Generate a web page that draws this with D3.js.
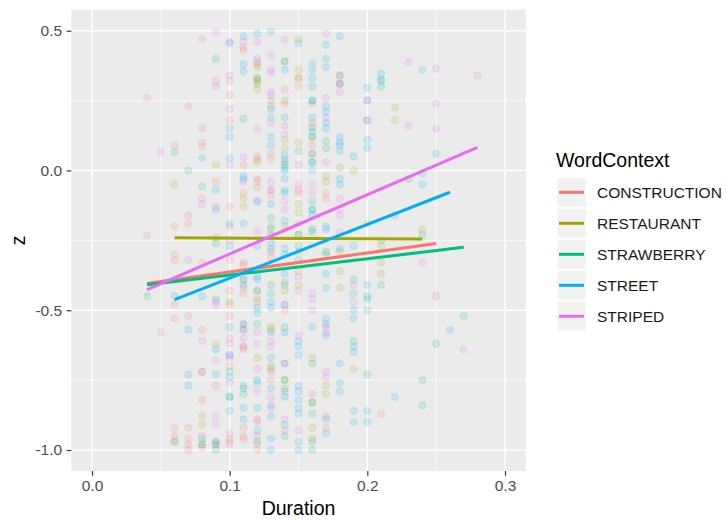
<!DOCTYPE html>
<html>
<head>
<meta charset="utf-8">
<script src="https://cdn.jsdelivr.net/npm/d3@7"></script>
<style>
  body { margin: 0; background: #fff; }
  svg text { font-family: "Liberation Sans", Arial, sans-serif; }
</style>
</head>
<body>
<div id="chart"></div>
<script>
// categories + colours (ggplot hue palette)
var contexts = ["CONSTRUCTION", "RESTAURANT", "STRAWBERRY", "STREET", "STRIPED"];
var contextColors = ["#F8766D", "#A3A500", "#00BF7D", "#00B0F6", "#E76BF3"];

// tick labels
var xTicks = [0, 0.1, 0.2, 0.3];
var xMinor = [0.05, 0.15, 0.25];
var yTicks = [-1, -0.5, 0, 0.5];
var yMinor = [-0.75, -0.25, 0.25];

var construction = [[0.08,0.47],[0.11,0.44],[0.09,0.32],[0.10,0.32],[0.10,0.27],[0.04,0.26],[0.07,0.23],[0.10,0.18],
  [0.08,0.15],[0.08,0.10],[0.08,0.085],[0.06,0.09],[0.11,0.02],[0.12,0.04],[0.13,0.06],[0.11,0.43],[0.15,0.33],
  [0.14,0.29],[0.16,0.24],[0.18,0.34],[0.15,0.30],[0.18,0.31],[0.14,0.24],[0.16,0.17],[0.12,0.05],[0.13,0.04],
  [0.16,0.06],[0.16,0.09],[0.09,-0.04],[0.11,-0.08],[0.12,-0.04],[0.12,-0.06],[0.08,-0.10],[0.10,-0.13],[0.07,-0.16],
  [0.07,-0.19],[0.06,-0.20],[0.10,-0.20],[0.06,-0.30],[0.12,-0.03],[0.13,-0.07],[0.15,-0.07],[0.17,-0.08],[0.13,-0.09],
  [0.15,-0.08],[0.17,-0.10],[0.13,-0.29],[0.13,-0.31],[0.08,-0.33],[0.10,-0.32],[0.11,-0.34],[0.06,-0.32],[0.11,-0.33],
  [0.06,-0.48],[0.10,-0.43],[0.11,-0.44],[0.11,-0.42],[0.14,-0.50],[0.12,-0.47],[0.25,-0.45],[0.10,-0.48],[0.06,-0.53],
  [0.05,-0.58],[0.07,-0.52],[0.08,-0.57],[0.10,-0.52],[0.10,-0.60],[0.11,-0.57],[0.11,-0.63],[0.10,-0.70],[0.09,-0.77],
  [0.08,-0.82],[0.11,-0.55],[0.11,-0.64],[0.13,-0.75],[0.16,-0.80],[0.17,-0.88],[0.21,-0.87],[0.12,-0.89],[0.17,-0.92],
  [0.11,-0.96],[0.12,-1.0],[0.06,-0.92],[0.06,-0.95],[0.07,-0.92],[0.07,-0.96],[0.07,-0.98],[0.08,-0.98],[0.09,-0.97],
  [0.10,-0.97],[0.10,-0.96],[0.11,-0.92],[0.11,-0.95],[0.12,-0.98],[0.06,-0.97],[0.07,-1.0],[0.08,-0.99],[0.09,-0.98]];

var restaurant = [[0.12,0.38],[0.12,0.33],[0.12,0.31],[0.12,0.37],[0.12,0.32],[0.12,0.29],[0.15,0.47],[0.15,0.36],
  [0.13,0.25],[0.14,0.25],[0.14,0.39],[0.15,0.33],[0.22,0.226],[0.22,0.18],[0.14,0.11],[0.15,0.10],[0.16,0.12],
  [0.14,0.08],[0.12,0.03],[0.09,0.02],[0.14,0.03],[0.18,0.01],[0.19,0.0],[0.06,-0.05],[0.11,-0.10],[0.11,-0.13],
  [0.15,-0.12],[0.17,-0.02],[0.17,-0.04],[0.09,-0.24],[0.13,-0.21],[0.14,-0.20],[0.20,-0.19],[0.24,-0.21],[0.15,-0.15],
  [0.15,-0.23],[0.15,-0.29],[0.18,-0.29],[0.21,-0.27],[0.10,-0.47],[0.11,-0.39],[0.12,-0.46],[0.14,-0.40],[0.15,-0.36],
  [0.18,-0.36],[0.21,-0.33],[0.21,-0.37],[0.12,-0.43],[0.14,-0.43],[0.15,-0.41],[0.18,-0.42],[0.09,-0.62],[0.13,-0.56],
  [0.13,-0.57],[0.13,-0.71],[0.16,-0.67],[0.19,-0.71],[0.13,-0.70],[0.14,-0.75],[0.12,-0.67],[0.08,-0.72],[0.14,-0.78],
  [0.17,-0.80],[0.17,-0.77],[0.16,-0.83],[0.08,-0.91],[0.08,-0.88],[0.16,-0.96],[0.16,-0.92]];

var strawberry = [[0.09,0.40],[0.11,0.185],[0.06,0.065],[0.07,0.0],[0.12,0.33],[0.18,0.34],[0.21,0.325],[0.21,0.30],
  [0.18,0.31],[0.16,0.30],[0.16,0.25],[0.14,0.19],[0.20,0.18],[0.13,0.22],[0.16,0.155],[0.16,0.12],[0.17,0.105],
  [0.15,0.07],[0.17,0.08],[0.16,0.03],[0.14,0.01],[0.16,0.06],[0.24,-0.01],[0.23,-0.03],[0.08,-0.057],[0.16,-0.11],
  [0.16,-0.14],[0.13,-0.17],[0.13,-0.20],[0.13,-0.23],[0.15,-0.23],[0.16,-0.21],[0.16,-0.22],[0.24,-0.23],[0.09,-0.26],
  [0.15,-0.27],[0.17,-0.29],[0.17,-0.30],[0.21,-0.25],[0.04,-0.45],[0.09,-0.46],[0.13,-0.41],[0.13,-0.44],[0.19,-0.39],
  [0.20,-0.45],[0.19,-0.44],[0.21,-0.41],[0.20,-0.50],[0.12,-0.55],[0.14,-0.56],[0.19,-0.61],[0.25,-0.62],[0.27,-0.52],
  [0.14,-0.69],[0.16,-0.69],[0.20,-0.73],[0.24,-0.75],[0.10,-0.72],[0.11,-0.78],[0.11,-0.80],[0.14,-0.75],[0.10,-0.81],
  [0.16,-0.87],[0.16,-0.83],[0.24,-0.84],[0.14,-0.95],[0.14,-0.91],[0.12,-0.97],[0.12,-0.93],[0.16,-1.0],[0.16,-0.97],
  [0.06,-0.97],[0.08,-0.96],[0.08,-0.98],[0.09,-1.0],[0.09,-0.98]];

var street = [[0.10,0.456],[0.11,0.48],[0.12,0.49],[0.13,0.497],[0.15,0.455],[0.17,0.45],[0.18,0.48],[0.11,0.38],
  [0.11,0.355],[0.14,0.39],[0.16,0.384],[0.16,0.36],[0.17,0.40],[0.14,0.36],[0.16,0.33],[0.17,0.37],[0.20,0.296],
  [0.21,0.346],[0.21,0.32],[0.24,0.36],[0.16,0.25],[0.17,0.23],[0.17,0.21],[0.20,0.25],[0.13,0.19],[0.16,0.19],
  [0.17,0.17],[0.17,0.15],[0.16,0.14],[0.10,0.15],[0.10,0.12],[0.13,0.12],[0.18,0.12],[0.18,0.10],[0.20,0.11],
  [0.08,0.044],[0.10,0.044],[0.14,0.055],[0.14,0.02],[0.16,0.03],[0.16,0.0],[0.18,0.07],[0.25,0.06],[0.13,0.09],
  [0.18,0.09],[0.19,0.05],[0.20,0.08],[0.14,0.04],[0.14,0.0],[0.11,-0.02],[0.09,-0.07],[0.11,-0.03],[0.12,-0.11],
  [0.09,-0.14],[0.14,-0.03],[0.14,-0.07],[0.13,-0.12],[0.14,-0.08],[0.18,-0.05],[0.18,-0.03],[0.24,-0.05],[0.22,-0.16],
  [0.16,-0.14],[0.14,-0.18],[0.16,-0.16],[0.17,-0.21],[0.17,-0.20],[0.10,-0.19],[0.11,-0.19],[0.10,-0.27],[0.12,-0.27],
  [0.13,-0.26],[0.14,-0.28],[0.18,-0.28],[0.19,-0.27],[0.13,-0.28],[0.14,-0.30],[0.15,-0.32],[0.06,-0.45],[0.08,-0.45],
  [0.11,-0.41],[0.11,-0.39],[0.12,-0.38],[0.12,-0.43],[0.12,-0.49],[0.13,-0.47],[0.14,-0.37],[0.14,-0.48],[0.17,-0.37],
  [0.20,-0.41],[0.12,-0.39],[0.14,-0.41],[0.17,-0.42],[0.20,-0.46],[0.13,-0.49],[0.07,-0.57],[0.10,-0.56],[0.11,-0.57],
  [0.09,-0.64],[0.12,-0.51],[0.11,-0.55],[0.13,-0.58],[0.14,-0.58],[0.15,-0.61],[0.15,-0.63],[0.16,-0.56],[0.17,-0.53],
  [0.17,-0.55],[0.17,-0.59],[0.19,-0.50],[0.19,-0.53],[0.19,-0.63],[0.19,-0.65],[0.26,-0.57],[0.07,-0.73],[0.07,-0.77],
  [0.09,-0.73],[0.10,-0.66],[0.11,-0.77],[0.10,-0.74],[0.12,-0.75],[0.13,-0.67],[0.15,-0.66],[0.18,-0.69],[0.12,-0.76],
  [0.13,-0.78],[0.14,-0.79],[0.14,-0.81],[0.15,-0.77],[0.15,-0.79],[0.15,-0.82],[0.18,-0.79],[0.18,-0.76],[0.22,-0.81],
  [0.10,-0.81],[0.10,-0.86],[0.11,-0.85],[0.12,-0.85],[0.11,-0.89],[0.13,-0.88],[0.13,-0.84],[0.15,-0.87],[0.15,-0.85],
  [0.17,-0.94],[0.17,-0.89],[0.19,-0.90],[0.19,-0.86],[0.20,-0.90],[0.20,-0.86],[0.09,-0.97],[0.13,-1.0],[0.13,-0.96],
  [0.15,-0.97],[0.15,-1.0]];

var striped = [[0.09,0.493],[0.11,0.46],[0.12,0.459],[0.14,0.47],[0.17,0.49],[0.10,0.46],[0.09,0.30],[0.10,0.34],
  [0.12,0.40],[0.13,0.41],[0.13,0.36],[0.13,0.35],[0.12,0.39],[0.18,0.28],[0.18,0.31],[0.23,0.388],[0.25,0.364],
  [0.28,0.34],[0.13,0.28],[0.13,0.23],[0.13,0.27],[0.17,0.26],[0.20,0.25],[0.25,0.24],[0.10,0.22],[0.12,0.15],
  [0.14,0.16],[0.13,0.17],[0.17,0.19],[0.20,0.18],[0.14,0.13],[0.23,0.16],[0.25,0.15],[0.05,0.066],[0.10,0.02],
  [0.11,0.048],[0.15,0.02],[0.17,0.03],[0.11,-0.04],[0.08,-0.12],[0.09,-0.13],[0.13,-0.04],[0.15,-0.05],[0.16,-0.05],
  [0.14,-0.11],[0.14,-0.14],[0.18,-0.10],[0.18,-0.14],[0.13,-0.07],[0.16,-0.08],[0.12,-0.11],[0.15,-0.19],[0.18,-0.22],
  [0.18,-0.16],[0.04,-0.233],[0.10,-0.25],[0.12,-0.22],[0.07,-0.32],[0.09,-0.47],[0.09,-0.48],[0.15,-0.38],[0.19,-0.41],
  [0.24,-0.33],[0.16,-0.44],[0.16,-0.46],[0.15,-0.43],[0.16,-0.50],[0.19,-0.47],[0.14,-0.48],[0.08,-0.61],[0.10,-0.62],
  [0.11,-0.63],[0.11,-0.60],[0.12,-0.58],[0.13,-0.61],[0.13,-0.63],[0.15,-0.59],[0.17,-0.56],[0.17,-0.58],[0.27,-0.64],
  [0.09,-0.68],[0.10,-0.66],[0.10,-0.67],[0.12,-0.62],[0.12,-0.71],[0.17,-0.74],[0.17,-0.72],[0.14,-0.69],[0.13,-0.72],
  [0.08,-0.72],[0.10,-0.76],[0.12,-0.79],[0.13,-0.81],[0.13,-0.85],[0.14,-0.93],[0.14,-0.89],[0.09,-0.88],[0.09,-0.91],
  [0.10,-0.94],[0.10,-0.98],[0.12,-0.90],[0.08,-0.95],[0.12,-0.95],[0.15,-0.93]];

var pointSets = [construction, restaurant, strawberry, street, striped];

// fitted lm lines, end points [x0, x1] and [y0, y1] as they appear in the picture
var fitX = [[0.04, 0.25], [0.06, 0.24], [0.04, 0.27], [0.06, 0.26], [0.04, 0.28]];
var fitY = [[-0.404, -0.261], [-0.241, -0.245], [-0.409, -0.275], [-0.462, -0.078], [-0.426, 0.083]];

// panel layout
var panel = {left: 71.35, right: 525.65, top: 9.74, bottom: 470.96};

var x = d3.scaleLinear()
  .domain([-0.015, 0.315])
  .range([panel.left, panel.right]);
var y = d3.scaleLinear()
  .domain([-1.075, 0.575])
  .range([panel.bottom, panel.top]);

var color = d3.scaleOrdinal().domain(contexts).range(contextColors);

var svg = d3.select("#chart")
  .append("svg")
    .attr("width", 727)
    .attr("height", 520);

// panel background
svg.append("rect")
  .attr("x", panel.left)
  .attr("y", panel.top)
  .attr("width", panel.right - panel.left)
  .attr("height", panel.bottom - panel.top)
  .attr("fill", "#EBEBEB");

// grid lines, minor first then major
var grid = svg.append("g");
grid.selectAll(".vminor").data(xMinor).enter().append("line")
  .attr("x1", function(d) { return x(d); }).attr("x2", function(d) { return x(d); })
  .attr("y1", panel.top).attr("y2", panel.bottom)
  .attr("stroke", "#fff").attr("stroke-width", 0.7);
grid.selectAll(".hminor").data(yMinor).enter().append("line")
  .attr("y1", function(d) { return y(d); }).attr("y2", function(d) { return y(d); })
  .attr("x1", panel.left).attr("x2", panel.right)
  .attr("stroke", "#fff").attr("stroke-width", 0.7);
grid.selectAll(".vmajor").data(xTicks).enter().append("line")
  .attr("x1", function(d) { return x(d); }).attr("x2", function(d) { return x(d); })
  .attr("y1", panel.top).attr("y2", panel.bottom)
  .attr("stroke", "#fff").attr("stroke-width", 1.4);
grid.selectAll(".hmajor").data(yTicks).enter().append("line")
  .attr("y1", function(d) { return y(d); }).attr("y2", function(d) { return y(d); })
  .attr("x1", panel.left).attr("x2", panel.right)
  .attr("stroke", "#fff").attr("stroke-width", 1.4);

// points
var points = [];
pointSets.forEach(function(set, i) {
  set.forEach(function(p) { points.push({ctx: contexts[i], dur: p[0], z: p[1]}); });
});

svg.append("g").selectAll("circle")
  .data(points)
  .enter()
  .append("circle")
    .attr("cx", function(d) { return x(d.dur); })
    .attr("cy", function(d) { return y(d.z); })
    .attr("r", 3.4)
    .attr("fill", function(d) { return color(d.ctx); })
    .attr("fill-opacity", 0.15)
    .attr("stroke", function(d) { return color(d.ctx); })
    .attr("stroke-opacity", 0.15)
    .attr("stroke-width", 1.1);

// regression lines
svg.append("g").selectAll("line")
  .data(contexts)
  .enter()
  .append("line")
    .attr("x1", function(d, i) { return x(fitX[i][0]); })
    .attr("x2", function(d, i) { return x(fitX[i][1]); })
    .attr("y1", function(d, i) { return y(fitY[i][0]); })
    .attr("y2", function(d, i) { return y(fitY[i][1]); })
    .attr("stroke", function(d) { return color(d); })
    .attr("stroke-width", 3);

// axes
var xAxis = svg.append("g")
  .attr("transform", "translate(0," + panel.bottom + ")")
  .call(d3.axisBottom(x).tickValues(xTicks).tickSize(4.7).tickPadding(4.3)
    .tickFormat(function(d) { return d.toFixed(1); }));
var yAxis = svg.append("g")
  .attr("transform", "translate(" + panel.left + ",0)")
  .call(d3.axisLeft(y).tickValues(yTicks).tickSize(4.7).tickPadding(4.5)
    .tickFormat(function(d) { return d.toFixed(1); }));

[xAxis, yAxis].forEach(function(a) {
  a.select(".domain").remove();
  a.selectAll(".tick line").attr("stroke", "#333333").attr("stroke-width", 1.2);
  a.selectAll(".tick text")
    .attr("fill", "#4D4D4D")
    .style("font-size", "15.5px")
    .style("font-family", "'Liberation Sans', Arial, sans-serif");
});

// axis titles
svg.append("text")
  .attr("x", (panel.left + panel.right) / 2)
  .attr("y", 515)
  .attr("text-anchor", "middle")
  .style("font-size", "19.5px")
  .attr("fill", "#000")
  .text("Duration");

svg.append("text")
  .attr("transform", "translate(25," + ((panel.top + panel.bottom) / 2) + ") rotate(-90)")
  .attr("text-anchor", "middle")
  .style("font-size", "19.5px")
  .attr("fill", "#000")
  .text("z");

// legend
var legend = svg.append("g").attr("transform", "translate(556,0)");
legend.append("text")
  .attr("x", 0)
  .attr("y", 166.5)
  .style("font-size", "19.5px")
  .attr("fill", "#000")
  .text("WordContext");

var keys = legend.selectAll(".key")
  .data(contexts)
  .enter()
  .append("g")
    .attr("transform", function(d, i) { return "translate(0," + (192.3 + i * 31) + ")"; });

keys.append("rect")
  .attr("x", 0.5).attr("y", -15)
  .attr("width", 30).attr("height", 30)
  .attr("fill", "#F2F2F2")
  .attr("stroke", "#fff")
  .attr("stroke-width", 1.5);
keys.append("line")
  .attr("x1", 3).attr("x2", 28)
  .attr("y1", 0).attr("y2", 0)
  .attr("stroke", function(d) { return color(d); })
  .attr("stroke-width", 3);
keys.append("text")
  .attr("x", 41)
  .attr("y", 0)
  .attr("dy", "0.36em")
  .style("font-size", "15.5px")
  .attr("fill", "#1A1A1A")
  .text(function(d) { return d; });
</script>
</body>
</html>
